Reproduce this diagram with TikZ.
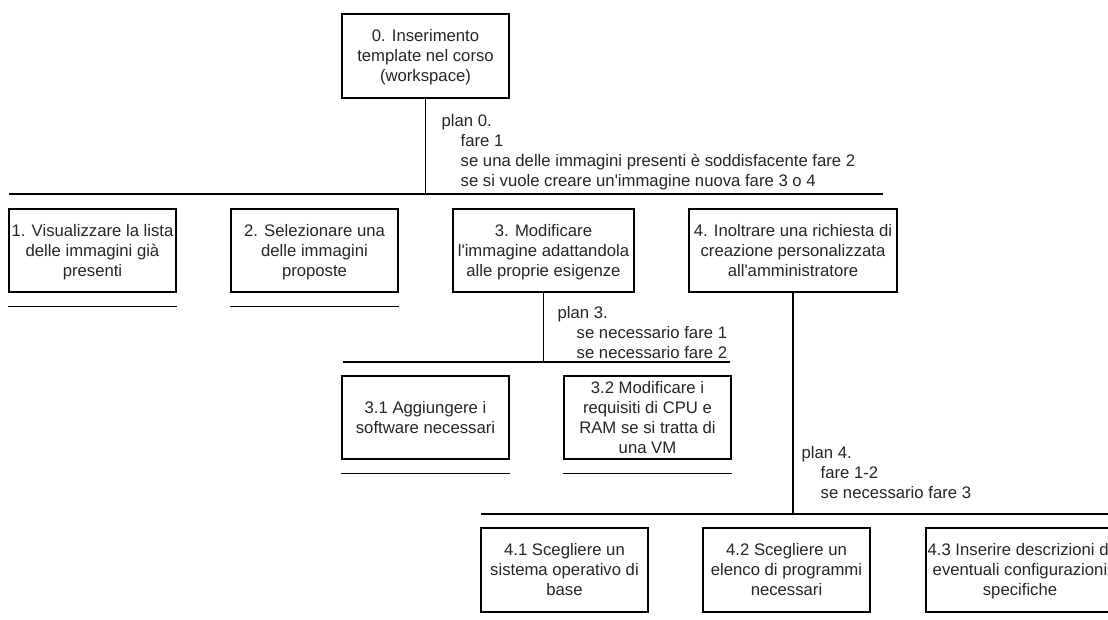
\documentclass[tikz,border=0pt]{standalone}
\usepackage{fontspec}
\setmainfont{Liberation Sans}
\definecolor{txt}{HTML}{262626}
\newcommand{\dfont}{\fontsize{16.7}{20}\selectfont}
\newcommand{\ls}{\rule[-4.2pt]{0pt}{20pt}}
\newcommand{\ind}{\hspace*{19pt}}
\tikzset{
  task/.style={draw=black, line width=1.4pt, inner sep=0pt, align=center,
    font=\dfont, text=txt},
  plantext/.style={anchor=north west, inner sep=0pt, align=left,
    font=\dfont, text=txt},
  link/.style={draw=black, line width=1.4pt},
}
\begin{document}
\begin{tikzpicture}[x=1pt,y=-1pt]
\clip (0,0) rectangle (1108,619);
\fill[white] (0,0) rectangle (1108,619);

% level 0
\node[task, minimum width=167pt, minimum height=84pt] (b0) at (425.5,56)
  {\ls 0. Inserimento\\\ls template nel corso\\\ls (workspace)};

% level 1
\node[task, minimum width=167pt, minimum height=83pt] (b1) at (92.5,250.5)
  {\ls 1. Visualizzare la lista\\\ls delle immagini già\\\ls presenti};
\node[task, minimum width=167pt, minimum height=83pt] (b2) at (314.5,250.5)
  {\ls 2. Selezionare una\\\ls delle immagini\\\ls proposte};
\node[task, minimum width=181pt, minimum height=83pt] (b3) at (543.5,250.5)
  {\ls 3. Modificare\\\ls l\textquotesingle immagine adattandola\\\ls alle proprie esigenze};
\node[task, minimum width=208pt, minimum height=83pt] (b4) at (793,250.5)
  {\ls 4. Inoltrare una richiesta di\\\ls creazione personalizzata\\\ls all\textquotesingle amministratore};

% level 2 (plan 3)
\node[task, minimum width=167pt, minimum height=83pt] (b31) at (425.5,417.5)
  {\ls 3.1 Aggiungere i\\\ls software necessari};
\node[task, minimum width=167pt, minimum height=83pt] (b32) at (647.5,417.5)
  {\ls 3.2 Modificare i\\\ls requisiti di CPU e\\\ls RAM se si tratta di\\\ls una VM};

% level 2 (plan 4)
\node[task, minimum width=167pt, minimum height=84pt] (b41) at (564.5,570)
  {\ls 4.1 Scegliere un\\\ls sistema operativo di\\\ls base};
\node[task, minimum width=167pt, minimum height=84pt] (b42) at (786.5,570)
  {\ls 4.2 Scegliere un\\\ls elenco di programmi\\\ls necessari};
\node[task, minimum width=188pt, minimum height=84pt] (b43) at (1020,570)
  {\ls 4.3 Inserire descrizioni di\\\ls eventuali configurazioni\\\ls specifiche};

% plan texts
\node[plantext] (p0) at (441.5,110.5)
  {\ls plan 0.\\\ls\ind fare 1\\\ls\ind se una delle immagini presenti è soddisfacente fare 2\\\ls\ind se si vuole creare un\textquotesingle immagine nuova fare 3 o 4};
\node[plantext] (p3) at (557.5,302)
  {\ls plan 3.\\\ls\ind se necessario fare 1\\\ls\ind se necessario fare 2};
\node[plantext] (p4) at (801.5,442)
  {\ls plan 4.\\\ls\ind fare 1-2\\\ls\ind se necessario fare 3};

% bars
\coordinate (bar0L) at (9,194);
\coordinate (bar0R) at (883,194);
\coordinate (bar3L) at (343,362);
\coordinate (bar3R) at (730,362);
\coordinate (bar4L) at (481,514);
\coordinate (bar4R) at (1120,514);

\draw[link] (b0.south) -- (b0.south |- bar0L);
\draw[link] (bar0L) -- (bar0R);
\draw[link] (b3.south) -- (b3.south |- bar3L);
\draw[link] (bar3L) -- (bar3R);
\draw[link] (b4.south) -- (b4.south |- bar4L);
\draw[link] (bar4L) -- (bar4R);

% end-of-branch lines under leaf tasks
\foreach \n in {b1,b2,b31,b32}
  \draw[link] ([yshift=-14pt]\n.south west) -- ([yshift=-14pt]\n.south east);
\end{tikzpicture}
\end{document}
